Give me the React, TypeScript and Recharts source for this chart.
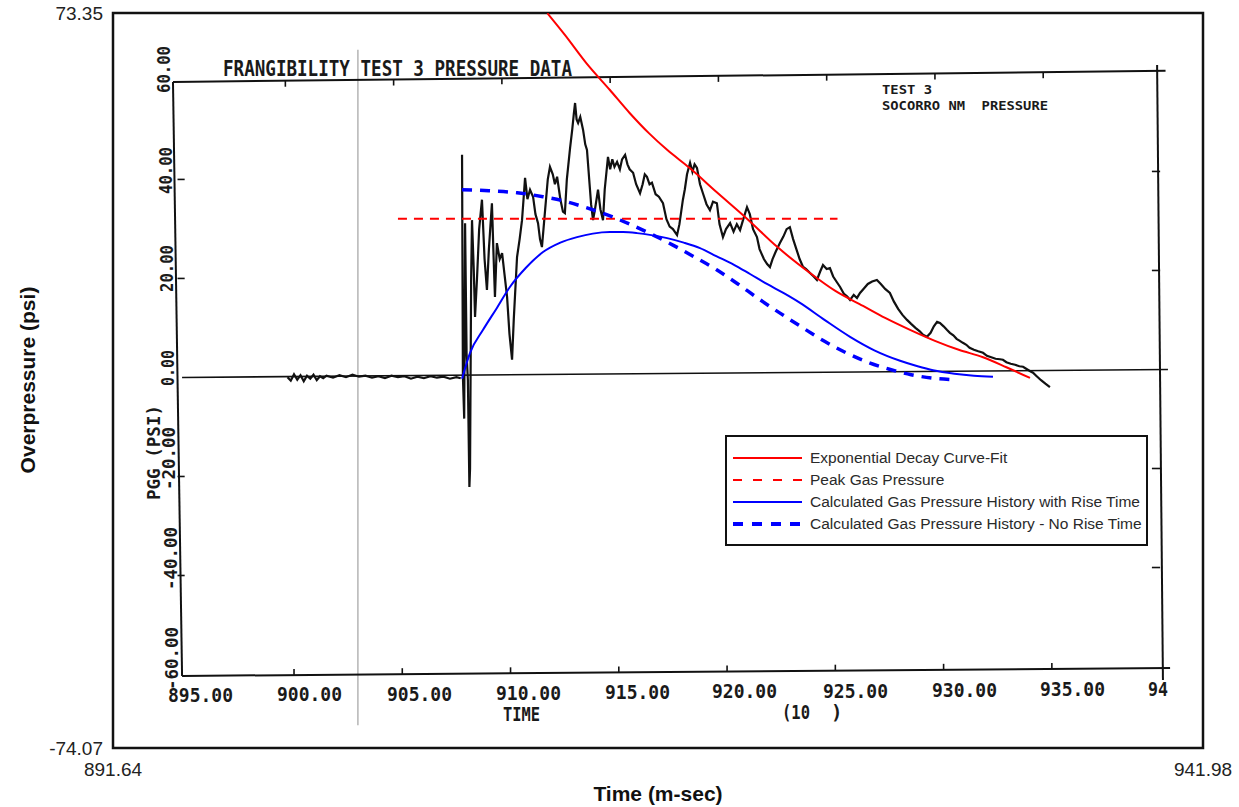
import { LineChart, Line, XAxis, YAxis, ReferenceLine, ReferenceArea, Legend } from 'recharts';

const CHART_W = 1239;
const CHART_H = 807;

const X_DOMAIN: [number, number] = [891.64, 941.98];
const Y_DOMAIN: [number, number] = [-74.07, 73.35];

// black record: [time, psi]
const recordQuiet: [number, number][] = [
  [899.7, 0.3], [899.85, -0.4], [900.0, 0.9], [900.15, -0.2], [900.3, 0.7], [900.45, -0.5],
  [900.6, 0.6], [900.75, 0.0], [900.9, 0.8], [901.05, -0.3], [901.2, 0.5], [901.35, 0.1],
  [901.5, 0.6], [901.8, 0.2], [902.1, 0.7], [902.4, 0.3], [902.7, 0.8], [903.0, 0.4],
  [903.3, 0.6], [903.6, 0.2], [903.9, 0.5], [904.2, 0.1], [904.5, 0.6], [904.8, 0.3],
  [905.1, 0.5], [905.4, 0.0], [905.7, 0.4], [906.0, 0.1], [906.3, 0.5], [906.6, 0.2],
  [906.9, 0.4], [907.2, 0.0], [907.5, 0.3], [907.7, 0.1],
];

const recordPulse: [number, number][] = [
  [907.76, 44.9], [907.8, 0.4], [907.86, -8], [907.9, 31.2], [907.97, 5], [908.03, -0.3],
  [908.1, -21.7], [908.13, -18], [908.18, 20], [908.22, 31.8], [908.3, 22], [908.36, 12.4],
  [908.45, 20], [908.55, 30], [908.68, 35.9], [908.8, 24], [908.91, 17.8], [909.0, 26],
  [909.14, 35.2], [909.22, 24], [909.28, 16.4], [909.37, 27.2], [909.5, 24], [909.61, 25.2],
  [909.72, 21], [909.84, 16.4], [909.95, 9], [910.07, 3.8], [910.15, 12], [910.3, 24.4],
  [910.42, 28], [910.53, 31.8], [910.6, 36], [910.67, 40.3], [910.78, 36], [910.9, 37.9],
  [911.04, 36.5], [911.15, 33], [911.27, 31.2], [911.36, 28], [911.45, 26.4], [911.6, 34],
  [911.72, 40], [911.82, 42.5], [911.95, 41], [912.05, 39], [912.15, 40.5], [912.3, 36],
  [912.42, 33.5], [912.51, 33.2], [912.6, 40], [912.75, 46.3], [912.85, 50], [912.92, 53],
  [912.98, 55.3], [913.05, 52], [913.12, 51.3], [913.22, 52.5], [913.35, 49.9], [913.45, 47],
  [913.53, 45.9], [913.65, 39], [913.72, 35], [913.81, 31.8], [913.9, 34], [914.04, 37.9],
  [914.15, 34], [914.27, 31.8], [914.35, 38], [914.5, 44.5], [914.6, 42], [914.7, 44],
  [914.8, 42.5], [914.92, 43.5], [915.05, 42], [915.15, 44], [915.29, 44.9], [915.4, 43],
  [915.5, 42], [915.66, 41.3], [915.8, 39], [915.98, 37.2], [916.1, 39], [916.2, 41],
  [916.3, 40.5], [916.42, 39], [916.53, 39.3], [916.7, 37], [916.85, 36.5], [917.04, 35.2],
  [917.2, 32], [917.35, 30.5], [917.5, 30], [917.69, 28.8], [917.8, 31], [917.96, 35.9],
  [918.05, 38], [918.15, 41], [918.29, 43.3], [918.4, 41.5], [918.5, 43], [918.61, 42.3],
  [918.75, 39], [918.9, 37], [919.05, 35], [919.21, 33.8], [919.35, 35.5], [919.53, 35.2],
  [919.65, 31], [919.81, 28.4], [919.95, 30], [920.14, 31.2], [920.3, 29.5], [920.45, 31],
  [920.6, 29.8], [920.75, 32], [920.92, 34.4], [921.05, 33], [921.2, 30], [921.38, 28.4],
  [921.5, 26], [921.7, 24], [921.85, 23], [921.98, 22.4], [922.1, 24], [922.25, 25.5],
  [922.44, 27.2], [922.6, 28.5], [922.75, 30], [922.9, 30.4], [923.05, 28], [923.2, 26],
  [923.35, 24], [923.5, 22.5], [923.65, 22], [923.83, 21.2], [924.0, 20.5], [924.15, 19.8],
  [924.3, 21.5], [924.43, 22.8], [924.6, 22], [924.75, 22.2], [924.9, 20.5], [925.05, 19.5],
  [925.22, 18.4], [925.4, 17], [925.55, 16.5], [925.68, 15.8], [925.85, 16.8], [926.0, 16.2],
  [926.14, 17.2], [926.3, 18], [926.5, 19], [926.7, 19.5], [926.92, 19.8], [927.1, 19],
  [927.3, 18], [927.52, 17.2], [927.7, 15.5], [927.9, 14], [928.1, 12.8], [928.31, 11.8],
  [928.5, 11], [928.7, 10.2], [928.9, 9.5], [929.05, 8.8], [929.23, 8.4], [929.4, 9.2],
  [929.55, 10.5], [929.7, 11.4], [929.83, 11.2], [930.0, 10.5], [930.15, 9.8], [930.29, 9.2],
  [930.45, 8.7], [930.6, 8], [930.75, 7.6], [930.89, 7.2], [931.05, 6.8], [931.2, 6.2],
  [931.4, 5.8], [931.6, 5.5], [931.82, 5.2], [932.0, 4.6], [932.2, 4.3], [932.4, 4.0],
  [932.6, 3.9], [932.74, 3.8], [932.9, 3.3], [933.1, 3.0], [933.3, 2.8], [933.5, 2.5],
  [933.67, 2.4], [933.85, 1.9], [934.0, 1.5], [934.13, 1.2], [934.3, 0.5], [934.5, -0.3],
  [934.7, -1.0], [934.91, -1.7],
];

const decayFit: [number, number][] = [
  [911.7, 73.3], [912.5, 69.0], [913.5, 63.3], [914.59, 57.9], [915.5, 53.3], [916.4, 49.2],
  [917.23, 45.9], [918.29, 42.2], [919.5, 37.5], [920.92, 32.1], [922.3, 26.5], [923.83, 21.2],
  [925.0, 17.6], [926.28, 14.6], [927.3, 12.2], [928.45, 9.8], [929.6, 7.6], [930.7, 5.8],
  [931.82, 4.3], [932.9, 2.3], [933.99, 0.15],
];

const peakGas: [number, number][] = [[904.8, 32.1], [925.1, 32.1]];

const gasWithRise: [number, number][] = [
  [907.76, 0], [908.13, 5.2], [908.73, 9.8], [909.37, 14.2], [909.97, 18.4], [910.7, 22.2],
  [911.5, 25.4], [912.3, 27.3], [913.07, 28.4], [913.8, 29.1], [914.59, 29.4], [915.2, 29.4],
  [915.84, 29.2], [916.5, 28.8], [917.23, 28.2], [918.0, 27.3], [918.75, 26.2], [919.5, 24.6],
  [920.3, 22.9], [921.06, 21.0], [921.84, 19.0], [922.6, 17.2], [923.37, 15.2], [924.5, 11.8],
  [925.68, 8.4], [926.8, 5.7], [927.99, 3.6], [928.8, 2.5], [929.51, 1.7], [930.5, 1.0],
  [931.4, 0.6], [932.28, 0.4],
];

const gasNoRise: [number, number][] = [
  [907.76, 37.9], [909.0, 37.7], [910.3, 37.3], [911.5, 36.5], [912.5, 35.6], [913.5, 34.3],
  [914.5, 32.8], [915.5, 31.0], [916.5, 29.0], [917.5, 26.8], [918.5, 24.4], [919.5, 21.9],
  [920.5, 19.0], [921.5, 15.9], [922.5, 13.0], [923.5, 10.2], [924.5, 7.5], [925.5, 5.2],
  [926.5, 3.3], [927.5, 1.9], [928.5, 0.8], [929.5, 0.1], [930.4, -0.2],
];

// scanned plot frame and ticks (in the outer chart's units)
const innerXTicks = [900, 905, 910, 915, 920, 925, 930, 935];
const innerYTicks = [40, 20, -20, -40];
const innerXLabels = ['895.00', '900.00', '905.00', '910.00', '915.00', '920.00', '925.00', '930.00', '935.00', '94'];
const innerYLabels = ['60.00', '40.00', '20.00', '0.00', '-20.00', '-40.00', '-60.00'];

const scanFrame: [number, number][][] = [
  [[894.41, 59.51], [940.25, 61.75]],
  [[894.83, -59.62], [940.46, -58.02]],
  [[894.83, 0.25], [940.36, 1.85]],
  [[894.41, 59.51], [894.83, -59.62]],
  [[939.86, 62.92], [940.13, -60.42]],
];

const tickSegments: [number, number][][] = [
  ...innerXTicks.map((t): [number, number][] => {
    const y0 = -59.62 + (t - 894.83) * 0.0351;
    return [[t, y0], [t, y0 + 1.2]];
  }),
  ...innerXTicks.map((t): [number, number][] => {
    const x = t - 0.4;
    const y0 = 59.51 + (x - 894.41) * 0.0487;
    return [[x, y0], [x, y0 - 1.2]];
  }),
  ...innerYTicks.map((v): [number, number][] => {
    const y = 1.85 + v * 0.993;
    return [[940.0, y], [939.62, y]];
  }),
  ...innerYTicks.map((v): [number, number][] => {
    const y = 0.25 + v * 0.993;
    return [[894.62, y], [894.95, y]];
  }),
];

const legendItems = [
  { name: 'Exponential Decay Curve-Fit', color: '#ff0000', width: 2, dash: undefined },
  { name: 'Peak Gas Pressure', color: '#ff0000', width: 2, dash: '9 11' },
  { name: 'Calculated Gas Pressure History with Rise Time', color: '#0000ff', width: 2, dash: undefined },
  { name: 'Calculated Gas Pressure History - No Rise Time', color: '#0000ff', width: 4, dash: '10 9' },
];

const toPts = (arr: [number, number][]) => arr.map(([x, y]) => ({ x, y }));

const MONO = '"DejaVu Sans Mono", "Liberation Mono", monospace';
const SANS = '"Liberation Sans", Arial, sans-serif';

function LegendBox() {
  return (
    <div
      style={{
        boxSizing: 'border-box',
        width: 423,
        height: 111,
        border: '2.5px solid #111',
        background: '#fff',
        padding: '10px 0 0 6px',
        fontFamily: SANS,
        fontSize: 15.5,
        color: '#2a2a2a',
      }}
    >
      {legendItems.map((it) => (
        <div key={it.name} style={{ display: 'flex', alignItems: 'center', height: 22 }}>
          <svg width={69} height={10} style={{ marginRight: 8, flex: 'none' }}>
            <line x1={0} y1={5} x2={69} y2={5} stroke={it.color} strokeWidth={it.width} strokeDasharray={it.dash} />
          </svg>
          <span style={{ whiteSpace: 'nowrap' }}>{it.name}</span>
        </div>
      ))}
    </div>
  );
}

const xLabelStarts = [168, 277, 387, 496, 605, 712, 823, 932, 1040, 1148];
const yLabelStarts = [93, 194, 292, 386, 490, 590, 690];

function ScanText() {
  const ink = '#1a1a1a';
  return (
    <svg width={CHART_W} height={CHART_H} style={{ position: 'absolute', left: 0, top: 0, pointerEvents: 'none' }}>
      <g fontFamily={MONO} fontWeight="bold" fill={ink}>
        <text x={223} y={76} fontSize={22} textLength={349} lengthAdjust="spacingAndGlyphs">
          FRANGIBILITY TEST 3 PRESSURE DATA
        </text>
        <text x={882} y={93.5} fontSize={13} textLength={50} lengthAdjust="spacingAndGlyphs">
          TEST 3
        </text>
        <text x={882} y={109.5} fontSize={13} textLength={166} lengthAdjust="spacingAndGlyphs" style={{ whiteSpace: 'pre' }}>
          SOCORRO NM  PRESSURE
        </text>
        {innerXLabels.map((lab, i) => (
          <text
            key={lab}
            x={xLabelStarts[i]}
            y={702 - (xLabelStarts[i] - 168) * 0.0065}
            fontSize={19}
            textLength={lab.length === 2 ? 20 : 65}
            lengthAdjust="spacingAndGlyphs"
          >
            {lab}
          </text>
        ))}
        <text x={503} y={721} fontSize={19} textLength={37} lengthAdjust="spacingAndGlyphs">TIME</text>
        <text x={782} y={719} fontSize={19} textLength={28} lengthAdjust="spacingAndGlyphs">(10</text>
        <text x={831} y={719} fontSize={19}>)</text>
        {innerYLabels.map((lab, i) => {
          const y0 = yLabelStarts[i];
          const bx = 170 + (y0 - 70) * 0.013;
          const len = lab.length === 6 ? 63 : lab.length === 5 ? 47 : 36;
          return (
            <text
              key={lab}
              transform={`translate(${bx},${y0}) rotate(-90)`}
              fontSize={18}
              textLength={len}
              lengthAdjust="spacingAndGlyphs"
            >
              {lab}
            </text>
          );
        })}
        <text transform="translate(160,500) rotate(-90)" fontSize={17} textLength={95} lengthAdjust="spacingAndGlyphs">
          PGG (PSI)
        </text>
      </g>
      <g fontFamily={SANS} fontWeight="bold" fontSize={21} fill="#111" textAnchor="middle">
        <text transform="translate(35,380) rotate(-90)">Overpressure (psi)</text>
        <text x={658} y={801}>Time (m-sec)</text>
      </g>
    </svg>
  );
}

export default function App() {
  return (
    <div style={{ position: 'absolute', left: 0, top: 0, width: CHART_W, height: CHART_H, background: '#fff' }}>
      <LineChart width={CHART_W} height={CHART_H} margin={{ top: 13, right: 36, bottom: 0, left: 0 }}>
        <XAxis
          type="number"
          dataKey="x"
          domain={X_DOMAIN}
          ticks={X_DOMAIN}
          interval={0}
          allowDataOverflow
          height={59}
          axisLine={false}
          tickLine={false}
          tickMargin={9}
          tickFormatter={(v: number) => v.toFixed(2)}
          tick={{ fill: '#222', fontSize: 19, fontFamily: SANS }}
        />
        <YAxis
          type="number"
          domain={Y_DOMAIN}
          ticks={Y_DOMAIN}
          interval={0}
          allowDataOverflow
          width={113}
          axisLine={false}
          tickLine={false}
          tickMargin={4}
          tickFormatter={(v: number) => v.toFixed(2)}
          tick={{ fill: '#222', fontSize: 19, fontFamily: SANS }}
        />
        <ReferenceArea
          x1={X_DOMAIN[0]}
          x2={X_DOMAIN[1]}
          y1={Y_DOMAIN[0]}
          y2={Y_DOMAIN[1]}
          fill="none"
          fillOpacity={0}
          stroke="#111"
          strokeWidth={2.5}
          ifOverflow="visible"
        />
        <ReferenceLine
          segment={[{ x: 902.95, y: 66 }, { x: 902.95, y: -69.5 }]}
          stroke="#b5b5b5"
          strokeWidth={1.5}
          ifOverflow="visible"
        />
        {scanFrame.map((seg, i) => (
          <ReferenceLine
            key={`f${i}`}
            segment={[{ x: seg[0][0], y: seg[0][1] }, { x: seg[1][0], y: seg[1][1] }]}
            stroke="#111"
            strokeWidth={i === 2 ? 1.6 : 2}
            ifOverflow="visible"
          />
        ))}
        {tickSegments.map((seg, i) => (
          <ReferenceLine
            key={`t${i}`}
            segment={[{ x: seg[0][0], y: seg[0][1] }, { x: seg[1][0], y: seg[1][1] }]}
            stroke="#111"
            strokeWidth={1.6}
            ifOverflow="visible"
          />
        ))}
        <Line data={toPts(recordQuiet)} dataKey="y" type="linear" stroke="#111" strokeWidth={2.2} dot={false} activeDot={false} isAnimationActive={false} legendType="none" />
        <Line data={toPts(recordPulse)} dataKey="y" type="linear" stroke="#111" strokeWidth={2.2} dot={false} activeDot={false} isAnimationActive={false} legendType="none" />
        <Line data={toPts(peakGas)} dataKey="y" type="linear" stroke="#ff0000" strokeWidth={2} strokeDasharray="9 7" dot={false} activeDot={false} isAnimationActive={false} />
        <Line data={toPts(gasNoRise)} dataKey="y" type="monotone" stroke="#0000ff" strokeWidth={3.5} strokeDasharray="10 8" dot={false} activeDot={false} isAnimationActive={false} />
        <Line data={toPts(gasWithRise)} dataKey="y" type="monotone" stroke="#0000ff" strokeWidth={2} dot={false} activeDot={false} isAnimationActive={false} />
        <Line data={toPts(decayFit)} dataKey="y" type="monotone" stroke="#ff0000" strokeWidth={2} dot={false} activeDot={false} isAnimationActive={false} />
        <Legend
          layout="vertical"
          align="center"
          verticalAlign="middle"
          wrapperStyle={{ left: 725, top: 435, width: 423, height: 111 }}
          content={() => <LegendBox />}
        />
      </LineChart>
      <ScanText />
    </div>
  );
}
